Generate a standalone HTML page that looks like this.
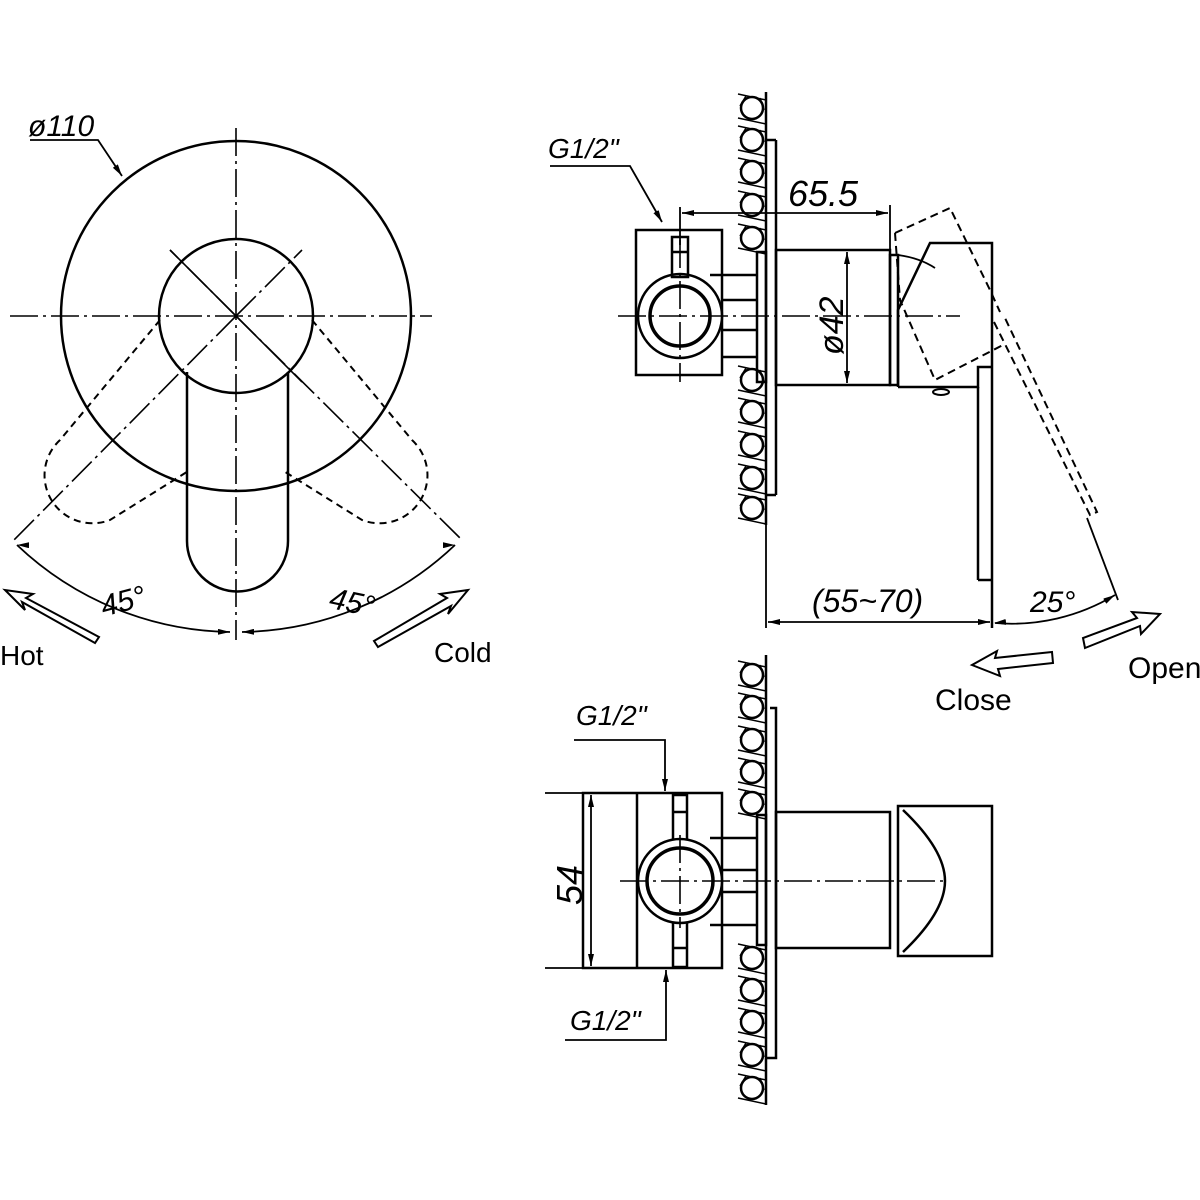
<!DOCTYPE html>
<html><head><meta charset="utf-8"><style>
html,body{margin:0;padding:0;background:#fff}
svg{display:block}
text{font-family:"Liberation Sans",sans-serif;fill:#000}
.n{font-family:"Liberation Sans Narrow","Liberation Sans",sans-serif}
</style></head><body>
<svg width="1200" height="1200" viewBox="0 0 1200 1200" xmlns="http://www.w3.org/2000/svg">
<defs>
<marker id="a" viewBox="0 0 12 6" refX="12" refY="3" markerWidth="12" markerHeight="6" orient="auto" markerUnits="userSpaceOnUse"><path d="M0,0L12,3L0,6z" fill="#000"/></marker>
<g id="peb">
<circle cx="0" cy="0" r="11" fill="none" stroke="#000" stroke-width="2.5"/>
<path d="M-14,-14L14,-8M-14,10L14,16M-12,-2L-6,-12M8,-10L12,2" stroke="#000" stroke-width="1.5" fill="none"/>
</g>
</defs>
<g fill="none" stroke="#000" stroke-width="2.5">
<!-- LEFT VIEW -->
<circle cx="236" cy="316" r="175"/>
<circle cx="236" cy="316" r="77"/>
<path d="M187,372 L187,541 A50,50 0 0 0 288,541 L288,372"/>
<path d="M187,372 Q236,405 288,372" stroke-width="0"/>
<path d="M215,410 Q236,385 258,410" stroke-width="0"/>
<g stroke-dasharray="7,5" stroke-width="2">
<path d="M160,320 L60,440 A48,48 0 0 0 110,520 L190,470"/>
<path d="M312,320 L412,440 A48,48 0 0 1 362,520 L282,470"/>
</g>
<g stroke-width="1.6" stroke-dasharray="28,5,3,5">
<line x1="10" y1="316" x2="432" y2="316"/>
<line x1="236" y1="128" x2="236" y2="640"/>
<line x1="236" y1="316" x2="14" y2="540"/>
<line x1="236" y1="316" x2="462" y2="540"/>
<line x1="236" y1="316" x2="170" y2="250"/>
<line x1="236" y1="316" x2="302" y2="250"/>
</g>
<line x1="170" y1="250" x2="302" y2="382" stroke-width="1.6"/>
<path d="M17,545 A316,316 0 0 0 230,632" stroke-width="1.8" marker-end="url(#a)"/>
<path d="M230,632 A316,316 0 0 0 17,545" stroke-width="0" marker-end="url(#a)"/>
<path d="M455,545 A316,316 0 0 1 242,632" stroke-width="1.8" marker-end="url(#a)"/>
<path d="M242,632 A316,316 0 0 1 455,545" stroke-width="0" marker-end="url(#a)"/>
<path d="M30,140 L98,140 L122,176" stroke-width="1.8" marker-end="url(#a)"/>
<!-- Hot / Cold arrows -->
<path d="M95,643 L22,602 L25,610 L5,590 L33,594 L26,598 L99,637 Z" stroke-width="2"/>
<path d="M378,647 L451,606 L448,614 L468,590 L440,594 L447,598 L374,641 Z" stroke-width="2"/>

<!-- TOP RIGHT VIEW -->
<line x1="766" y1="92" x2="766" y2="525"/>
<line x1="766" y1="140" x2="776" y2="140"/>
<line x1="776" y1="140" x2="776" y2="495"/>
<line x1="766" y1="495" x2="776" y2="495"/>
<rect x="757" y="252" width="9" height="130"/>
<rect x="636" y="230" width="86" height="145" fill="#fff"/>
<path d="M710,275 L757,275 M722,357 L757,357 M722,300 L757,300 M722,330 L757,330"/>
<circle cx="680" cy="316" r="42" fill="#fff"/>
<circle cx="680" cy="316" r="30" stroke-width="3.5"/>
<rect x="672" y="237" width="16" height="40"/>
<line x1="672" y1="252" x2="688" y2="252"/>
<rect x="776" y="250" width="114" height="135"/>
<rect x="890" y="255" width="8" height="130"/>
<path d="M898,387 L898,310 L930,243 L992,243 L992,628"/>
<path d="M898,387 L978,387 L978,367 L992,367"/>
<line x1="978" y1="387" x2="978" y2="580"/>
<line x1="978" y1="580" x2="992" y2="580"/>
<path d="M898,255 Q920,258 935,268" stroke-width="1.8"/>
<ellipse cx="941" cy="392" rx="8" ry="3" stroke-width="2"/>
<g stroke-dasharray="8,5" stroke-width="2">
<path d="M895,233 L950,208 L990,290 L1000,312"/>
<path d="M895,233 L900,300 L935,380 L1003,345"/>
<path d="M994,322 L1090,515 L1097,512 L1005,318"/>
</g>
<line x1="1087" y1="518" x2="1118" y2="600" stroke-width="1.8"/>
<g stroke-width="1.6" stroke-dasharray="28,5,3,5">
<line x1="618" y1="316" x2="960" y2="316"/>
<line x1="680" y1="240" x2="680" y2="382"/>
</g>
<!-- dims -->
<line x1="680" y1="207" x2="680" y2="245" stroke-width="1.8"/>
<line x1="890" y1="205" x2="890" y2="250" stroke-width="1.8"/>
<line x1="785" y1="213" x2="682" y2="213" stroke-width="1.8" marker-end="url(#a)"/>
<line x1="785" y1="213" x2="888" y2="213" stroke-width="1.8" marker-end="url(#a)"/>
<line x1="847" y1="318" x2="847" y2="252" stroke-width="1.8" marker-end="url(#a)"/>
<line x1="847" y1="318" x2="847" y2="383" stroke-width="1.8" marker-end="url(#a)"/>
<line x1="766" y1="525" x2="766" y2="628" stroke-width="1.8"/>
<line x1="878" y1="622" x2="768" y2="622" stroke-width="1.8" marker-end="url(#a)"/>
<line x1="878" y1="622" x2="990" y2="622" stroke-width="1.8" marker-end="url(#a)"/>
<path d="M995,623 A200,200 0 0 0 1115,595" stroke-width="1.8" marker-end="url(#a)"/>
<path d="M1050,618 L994,623" stroke-width="0" marker-end="url(#a)"/>
<path d="M550,166 L630,166 L662,222" stroke-width="1.8" marker-end="url(#a)"/>
<!-- close / open arrows -->
<path d="M1052,652 L995,658 L997,651 L972,665 L1000,676 L998,669 L1053,663 Z" stroke-width="2"/>
<path d="M1085,648 L1140,626 L1141,634 L1160,614 L1132,612 L1137,618 L1083,638 Z" stroke-width="2"/>

<!-- BOTTOM VIEW -->
<line x1="766" y1="655" x2="766" y2="1105"/>
<path d="M770,708 L776,708 L776,1058 L766,1058" />
<rect x="757" y="815" width="9" height="130"/>
<rect x="583" y="793" width="139" height="175" fill="#fff"/>
<line x1="637" y1="793" x2="637" y2="968"/>
<path d="M710,838 L757,838 M722,870 L757,870 M722,892 L757,892 M710,925 L757,925"/>
<rect x="673" y="795" width="14" height="172"/>
<line x1="673" y1="812" x2="687" y2="812"/><line x1="673" y1="948" x2="687" y2="948"/>
<circle cx="680" cy="881" r="42" fill="#fff"/>
<circle cx="680" cy="881" r="33" stroke-width="3.5"/>
<rect x="776" y="812" width="114" height="136"/>
<rect x="898" y="806" width="94" height="150"/>
<path d="M900,812 Q950,850 930,940" stroke-width="0"/>
<path d="M903,810 Q945,850 945,881 Q945,912 903,952"/>
<g stroke-width="1.6" stroke-dasharray="28,5,3,5">
<line x1="620" y1="881" x2="948" y2="881"/>
<line x1="680" y1="835" x2="680" y2="928"/>
</g>
<line x1="583" y1="793" x2="545" y2="793" stroke-width="1.8"/>
<line x1="583" y1="968" x2="545" y2="968" stroke-width="1.8"/>
<line x1="591" y1="880" x2="591" y2="795" stroke-width="1.8" marker-end="url(#a)"/>
<line x1="591" y1="880" x2="591" y2="966" stroke-width="1.8" marker-end="url(#a)"/>
<path d="M574,740 L665,740 L665,791" stroke-width="1.8" marker-end="url(#a)"/>
<path d="M565,1040 L666,1040 L666,970" stroke-width="1.8" marker-end="url(#a)"/>
</g>
<!-- pebbles -->
<g>
<use href="#peb" x="752" y="108"/><use href="#peb" x="752" y="140"/><use href="#peb" x="752" y="172"/><use href="#peb" x="752" y="205"/><use href="#peb" x="752" y="238"/>
<use href="#peb" x="752" y="380"/><use href="#peb" x="752" y="412"/><use href="#peb" x="752" y="445"/><use href="#peb" x="752" y="478"/><use href="#peb" x="752" y="508"/>
<use href="#peb" x="752" y="675"/><use href="#peb" x="752" y="707"/><use href="#peb" x="752" y="740"/><use href="#peb" x="752" y="772"/><use href="#peb" x="752" y="803"/>
<use href="#peb" x="752" y="958"/><use href="#peb" x="752" y="990"/><use href="#peb" x="752" y="1022"/><use href="#peb" x="752" y="1055"/><use href="#peb" x="752" y="1088"/>
</g>
<!-- text -->
<text x="28" y="136" font-size="30" font-style="italic" class="n">ø110</text>
<text x="0" y="665" font-size="28" class="n">Hot</text>
<text x="434" y="662" font-size="28" class="n">Cold</text>
<text x="100" y="612" font-size="30" font-style="italic" class="n" transform="rotate(-15 120 600)">45°</text>
<text x="330" y="612" font-size="30" font-style="italic" class="n" transform="rotate(12 350 600)">45°</text>
<text x="548" y="158" font-size="28" font-style="italic" class="n">G1/2"</text>
<text x="788" y="206" font-size="36" font-style="italic" class="n">65.5</text>
<text x="0" y="0" font-size="34" font-style="italic" class="n" transform="translate(843 355) rotate(-90)">ø42</text>
<text x="812" y="612" font-size="32" font-style="italic" class="n">(55~70)</text>
<text x="1030" y="612" font-size="30" font-style="italic" class="n">25°</text>
<text x="935" y="710" font-size="30" class="n">Close</text>
<text x="1128" y="678" font-size="30" class="n">Open</text>
<text x="576" y="725" font-size="28" font-style="italic" class="n">G1/2"</text>
<text x="570" y="1030" font-size="28" font-style="italic" class="n">G1/2"</text>
<text x="0" y="0" font-size="36" font-style="italic" class="n" transform="translate(582 905) rotate(-90)">54</text>
</svg>
</body></html>
